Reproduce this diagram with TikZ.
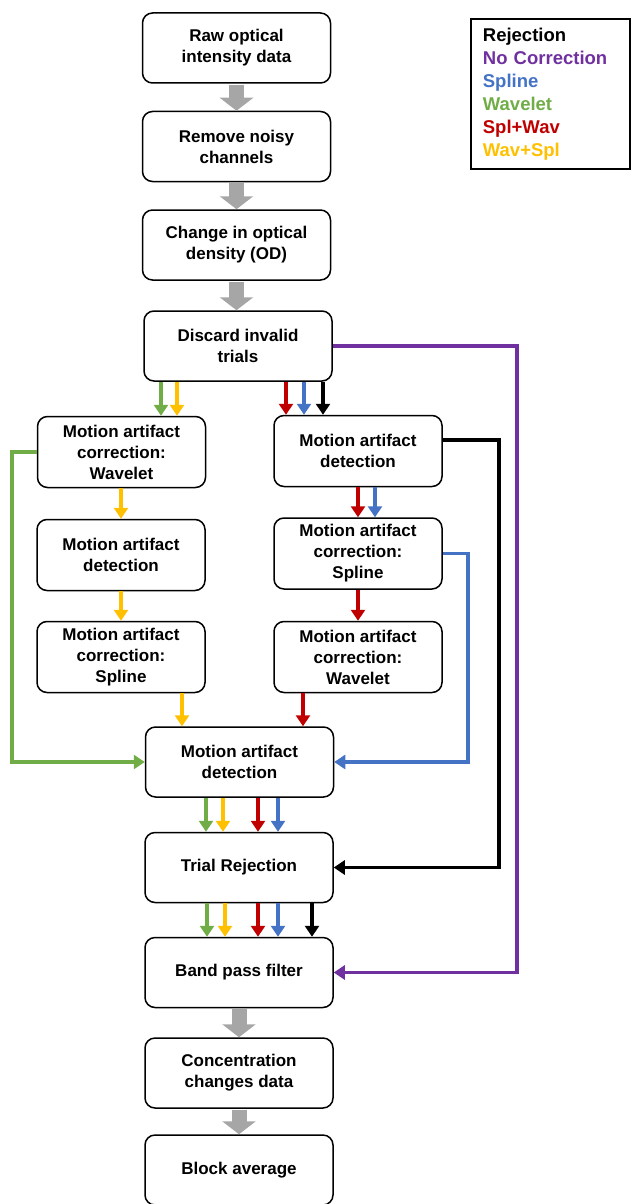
\documentclass[tikz,border=0pt]{standalone}
\usepackage{fontspec}
\setmainfont{Liberation Sans}
\usetikzlibrary{arrows.meta}
\definecolor{cpur}{HTML}{7030A0}
\definecolor{cblu}{HTML}{4472C4}
\definecolor{cgrn}{HTML}{70AD47}
\definecolor{cred}{HTML}{C00000}
\definecolor{cyel}{HTML}{FFC000}
\definecolor{cgry}{HTML}{A6A6A6}
\tikzset{
  box/.style={draw,line width=1.5pt,rounded corners=10pt,align=center,inner sep=0pt,
    font=\fontsize{17}{21}\selectfont\bfseries},
  big/.style={box,minimum width=188pt,minimum height=70pt},
  small/.style={box,minimum width=168pt,minimum height=71pt},
  flow/.style={line width=3.5pt,-{Triangle[length=11pt,width=14pt]}},
  garr/.style={cgry,line width=15pt,shorten <=0.8pt,-{Triangle[length=13pt,width=33pt]}}
}

\begin{document}
\begin{tikzpicture}[x=1pt,y=-1pt]
\useasboundingbox (0,0) rectangle (630,1204);

% main column
\node[big] (raw) at (236.5,48) {Raw optical\\intensity data};
\node[big] (noisy) at (236.5,146.5) {Remove noisy\\channels};
\node[big] (od) at (236.5,245) {Change in optical\\density (OD)};
\node[big] (discard) at (238,346) {Discard invalid\\trials};

% two branches
\node[small] (wavL) at (121.5,452) {Motion artifact\\correction:\\Wavelet};
\node[small] (detL) at (121,555) {Motion artifact\\detection};
\node[small] (splL) at (121,657) {Motion artifact\\correction:\\Spline};
\node[small] (detR) at (358,451) {Motion artifact\\detection};
\node[small] (splR) at (358,553.5) {Motion artifact\\correction:\\Spline};
\node[small] (wavR) at (358,657) {Motion artifact\\correction:\\Wavelet};

\node[big] (det) at (239.5,762) {Motion artifact\\detection};
\node[big] (trial) at (239,867.5) {Trial Rejection};
\node[big] (band) at (239,972.5) {Band pass filter};
\node[big] (conc) at (239,1073) {Concentration\\changes data};
\node[big] (block) at (239,1170) {Block average};

% legend
\node[draw,line width=1.8pt,anchor=north west,text width=135pt,inner xsep=12pt,
  minimum height=150pt,align=left,font=\fontsize{18.5}{23}\selectfont\bfseries] (legend) at (470,18)
  {Rejection\\\textcolor{cpur}{No Correction}\\\textcolor{cblu}{Spline}\\
   \textcolor{cgrn}{Wavelet}\\\textcolor{cred}{Spl+Wav}\\\textcolor{cyel}{Wav+Spl}};

% gray arrows
\draw[garr] (raw.south) -- (noisy.north);
\draw[garr] (noisy.south) -- (od.north);
\draw[garr] (od.south) -- (od.south |- discard.north);
\draw[garr] (band.south) -- (band.south |- conc.north);
\draw[garr] (conc.south) -- (block.north);

% out of discard
\draw[flow,cgrn] (161,0 |- discard.south) -- (161,0 |- wavL.north);
\draw[flow,cyel] (177,0 |- discard.south) -- (177,0 |- wavL.north);
\draw[flow,cred] (286,0 |- discard.south) -- (286,0 |- detR.north);
\draw[flow,cblu] (304,0 |- discard.south) -- (304,0 |- detR.north);
\draw[flow,black] (323,0 |- discard.south) -- (323,0 |- detR.north);
\draw[flow,cpur] (discard.east) -| (517,0 |- band.east) -- (band.east);

% left branch
\draw[flow,cyel] (121,0 |- wavL.south) -- (121,0 |- detL.north);
\draw[flow,cyel] (121,0 |- detL.south) -- (121,0 |- splL.north);
\draw[flow,cyel] (182,0 |- splL.south) -- (182,0 |- det.north);
\draw[flow,cgrn] (wavL.west) -| (12,0 |- det.west) -- (det.west);

% right branch
\draw[flow,cred] (358,0 |- detR.south) -- (358,0 |- splR.north);
\draw[flow,cblu] (375,0 |- detR.south) -- (375,0 |- splR.north);
\draw[flow,cred] (358,0 |- splR.south) -- (358,0 |- wavR.north);
\draw[flow,cred] (303,0 |- wavR.south) -- (303,0 |- det.north);
\draw[flow,cblu] (splR.east) -| (468,0 |- det.east) -- (det.east);
\draw[flow,black] ([yshift=11pt]detR.east) -| (499,0 |- trial.east) -- (trial.east);

% into trial rejection and band pass
\draw[flow,cgrn] (206,0 |- det.south) -- (206,0 |- trial.north);
\draw[flow,cyel] (223,0 |- det.south) -- (223,0 |- trial.north);
\draw[flow,cred] (258,0 |- det.south) -- (258,0 |- trial.north);
\draw[flow,cblu] (278,0 |- det.south) -- (278,0 |- trial.north);
\draw[flow,cgrn] (207,0 |- trial.south) -- (207,0 |- band.north);
\draw[flow,cyel] (225,0 |- trial.south) -- (225,0 |- band.north);
\draw[flow,cred] (258,0 |- trial.south) -- (258,0 |- band.north);
\draw[flow,cblu] (278,0 |- trial.south) -- (278,0 |- band.north);
\draw[flow,black] (312,0 |- trial.south) -- (312,0 |- band.north);
\end{tikzpicture}
\end{document}
